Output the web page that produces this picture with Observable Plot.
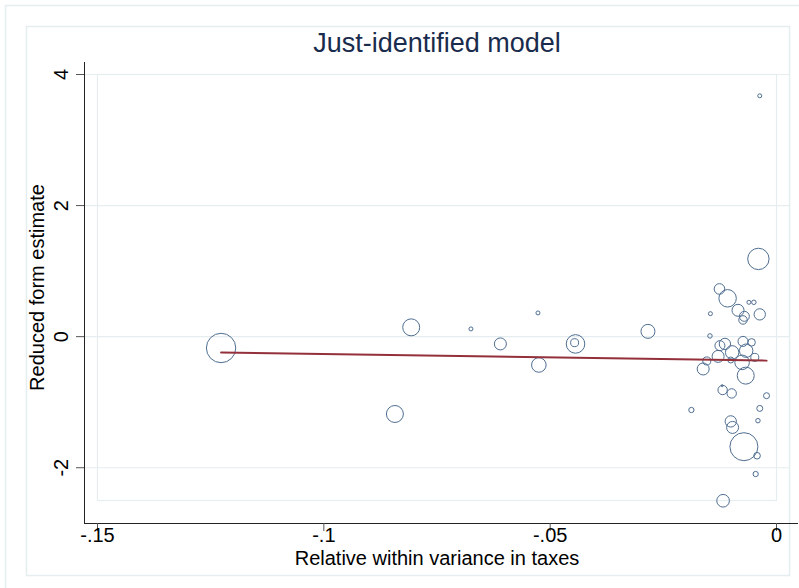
<!DOCTYPE html>
<html><head><meta charset="utf-8">
<script src="https://cdn.jsdelivr.net/npm/d3@7"></script>
<script src="https://cdn.jsdelivr.net/npm/@observablehq/plot@0.6"></script>
<style>body{margin:0;background:#fff} svg{display:block}</style>
</head><body><div id="chart"></div>
<script>
// Data
const relWithinVar = [-0.1227, -0.0843, -0.0807, -0.0675, -0.0610, -0.0527, -0.0525, -0.0444, -0.0446, -0.0284,
  -0.0188, -0.0126, -0.0108, -0.0061, -0.0050, -0.0085, -0.0037, -0.0146, -0.0071, -0.0074,
  -0.0040, -0.0037, -0.0147, -0.0114, -0.0125, -0.0074, -0.0055, -0.0098, -0.0067, -0.0129,
  -0.0101, -0.0154, -0.0048, -0.0076, -0.0162, -0.0068, -0.0119, -0.0099, -0.0022, -0.0037,
  -0.0041, -0.0101, -0.0097, -0.0072, -0.0043, -0.0046, -0.0118, -0.0120];
const reducedForm = [-0.173, -1.180, 0.142, 0.118, -0.111, 0.362, -0.432, -0.111, -0.092, 0.081,
  -1.119, 0.728, 0.585, 0.524, 0.524, 0.402, 0.340, 0.351, 0.310, 0.255,
  1.186, 3.675, 0.011, -0.111, -0.137, -0.072, -0.087, -0.240, -0.214, -0.301,
  -0.356, -0.371, -0.316, -0.392, -0.493, -0.595, -0.814, -0.866, -0.901, -1.095,
  -1.282, -1.293, -1.385, -1.679, -1.817, -2.096, -2.504, -0.748];
const weights = [216, 72, 72, 4, 36, 4, 53, 86, 16, 49,
  7, 28, 76, 4, 5, 36, 32, 4, 25, 18,
  114, 4, 5, 32, 25, 25, 14, 45, 45, 36,
  9, 16, 16, 53, 36, 72, 22, 22, 9, 9,
  5, 32, 36, 196, 11, 7, 40, 1];
const fitIntercept = -0.368;
const fitSlope = -1.017;
const xTicks = [-0.15, -0.1, -0.05, 0];
const xTickLabels = ["-.15", "-.1", "-.05", "0"];
const yTicks = [-2, 0, 2, 4];
const yTickLabels = ["-2", "0", "2", "4"];
const titleText = "Just-identified model";
const xTitle = "Relative within variance in taxes";
const yTitle = "Reduced form estimate";

const points = relWithinVar.map((x, i) => ({x, y: reducedForm[i], w: weights[i]}));
const fitLine = d3.extent(relWithinVar).map(x => ({x, y: fitIntercept + fitSlope * x}));

const faint = "#e6edf0";
const font = "'Liberation Sans', Arial, Helvetica, sans-serif";

const chart = Plot.plot({
  width: 799, height: 588,
  marginLeft: 97, marginRight: 23, marginTop: 74, marginBottom: 88,
  style: {fontFamily: font, background: "#fff", overflow: "hidden"},
  x: {domain: [-0.15, 0]},
  y: {domain: [-2.5, 4]},
  r: {type: "sqrt", domain: [0, 216], range: [0, 14.7]},
  marks: [
    Plot.frame({stroke: faint, strokeWidth: 1.5, insetLeft: -92, insetTop: -69, insetRight: -40, insetBottom: -120}),
    Plot.frame({stroke: faint, strokeWidth: 1.5, insetLeft: -71, insetTop: -48, insetRight: -13, insetBottom: -75}),
    Plot.gridY(yTicks, {stroke: faint, strokeOpacity: 1, strokeWidth: 1.2, insetLeft: -13, insetRight: -13}),
    Plot.frame({stroke: faint, strokeWidth: 1.2}),
    Plot.frame({anchor: "left", stroke: "#222", insetLeft: -13, insetTop: -12, insetBottom: -23}),
    Plot.frame({anchor: "bottom", stroke: "#222", insetBottom: -23, insetLeft: -13, insetRight: -21}),
    Plot.axisY({ticks: yTicks, tickSize: 8, tickPadding: 9, dx: -13, tickRotate: -90,
      tickFormat: d => yTickLabels[yTicks.indexOf(d)], fontSize: 20, label: null, stroke: "#555", fill: "#000"}),
    Plot.axisX({ticks: xTicks, tickSize: 8, tickPadding: -4, dy: 23,
      tickFormat: d => xTickLabels[xTicks.indexOf(d)], fontSize: 20, label: null, stroke: "#555", fill: "#000"}),
    Plot.dot(points, {x: "x", y: "y", r: "w", stroke: "#4f6e91", strokeWidth: 1, fill: "none"}),
    Plot.line(fitLine, {x: "x", y: "y", stroke: "#93303a", strokeWidth: 2}),
    Plot.text([titleText], {frameAnchor: "top", dy: -31, lineAnchor: "middle", textAnchor: "middle", fontSize: 27, fill: "#1a2c4d", text: d => d}),
    Plot.text([xTitle], {frameAnchor: "bottom", dy: 58, lineAnchor: "middle", textAnchor: "middle", fontSize: 20, fill: "#000", text: d => d}),
    Plot.text([yTitle], {frameAnchor: "left", dx: -60, rotate: -90, lineAnchor: "middle", textAnchor: "middle", fontSize: 20, fill: "#000", text: d => d})
  ]
});
document.getElementById("chart").appendChild(chart);
</script>
</body></html>
